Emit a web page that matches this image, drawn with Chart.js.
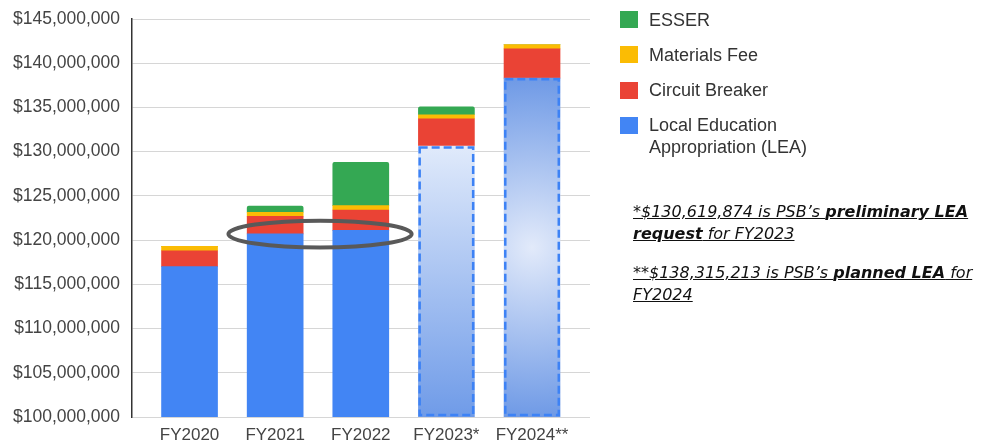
<!DOCTYPE html>
<html lang="en">
<head>
<meta charset="UTF-8">
<title>PSB funding by source, FY2020-FY2024</title>
<script src="https://cdn.jsdelivr.net/npm/chart.js"></script>
<style>
  body { margin: 0; background: #fff; }
  #wrap { position: relative; width: 986px; height: 446px; }
  #legend {
    position: absolute; left: 620px; top: 8.5px;
    font-family: "Liberation Sans", Arial, sans-serif; font-size: 18px; color: #333;
  }
  .item { position: relative; padding-left: 29px; line-height: 22px; margin-bottom: 13.3px; }
  .swatch { position: absolute; left: 0; top: 2.5px; width: 18px; height: 17px; }
  #notes {
    position: absolute; left: 633px; top: 201px;
    font-family: "DejaVu Sans", sans-serif; font-style: italic; font-size: 16px;
    line-height: 22px; color: #111;
  }
  #notes p { margin: 0 0 17px; text-decoration: underline; }
  #notes b { font-weight: 700; }
</style>
</head>
<body>
<div id="wrap">
  <canvas id="chart"></canvas>
  <div id="legend"></div>
  <div id="notes">
    <p>*$130,619,874 is PSB’s <b>preliminary LEA</b><br><b>request</b> for FY2023</p>
    <p>**$138,315,213 is PSB’s <b>planned LEA</b> for<br>FY2024</p>
  </div>
</div>

<script>
// data
const categories = ['FY2020', 'FY2021', 'FY2022', 'FY2023*', 'FY2024**'];
const lea = [117000000, 120700000, 121100000, 130619874, 138315213];
const circuitBreaker = [1800000, 2000000, 2300000, 3100000, 3300000];
const materialsFee = [500000, 450000, 500000, 450000, 500000];
const esser = [0, 700000, 4900000, 900000, 0];
const yTicks = [100000000, 105000000, 110000000, 115000000, 120000000,
                125000000, 130000000, 135000000, 140000000, 145000000];

const seriesNames = ['Local Education\nAppropriation (LEA)', 'Circuit Breaker', 'Materials Fee', 'ESSER'];
const colors = ['#4285f4', '#ea4335', '#fbbc04', '#34a853'];
const projected = [3, 4]; // bars drawn dashed with gradient fill

// ellipse highlighting FY2021/FY2022 LEA, in data units
const ring = { x: 1.524, y: 120680000, rx: 1.07, ry: 1520000 };

function toPoints(arr) {
  return arr.map((v, i) => ({ x: i, y: v }));
}

function leaFill(context) {
  const chart = context.chart;
  const i = context.dataIndex;
  const area = chart.chartArea;
  if (!area || projected.indexOf(i) < 0) return colors[0];
  const ctx = chart.ctx;
  const top = chart.scales.y.getPixelForValue(lea[i]);
  const bottom = area.bottom;
  if (i === 3) {
    const g = ctx.createLinearGradient(0, top, 0, bottom);
    g.addColorStop(0, '#e0eafb');
    g.addColorStop(1, '#6f9be8');
    return g;
  }
  const cx = chart.scales.x.getPixelForValue(i);
  const cy = (top + bottom) / 2;
  const g = ctx.createRadialGradient(cx, cy, 0, cx, cy, (bottom - top) / 2);
  g.addColorStop(0, '#e2eafa');
  g.addColorStop(1, '#6f9ae6');
  return g;
}

// dashed outline for the planned LEA bars
const dashedBars = {
  id: 'dashedBars',
  afterDatasetsDraw(chart) {
    const meta = chart.getDatasetMeta(0);
    const ctx = chart.ctx;
    ctx.save();
    ctx.strokeStyle = '#3d82f5';
    ctx.lineWidth = 2.5;
    ctx.setLineDash([8, 4]);
    projected.forEach(i => {
      const bar = meta.data[i];
      const w = bar.width;
      const bottom = Math.min(bar.base, chart.chartArea.bottom) - 2;
      ctx.strokeRect(bar.x - w / 2 + 1.25, bar.y + 1.25, w - 2.5, bottom - bar.y - 1.25);
    });
    ctx.restore();
  }
};

const ringPlugin = {
  id: 'ring',
  afterDatasetsDraw(chart) {
    const x = chart.scales.x, y = chart.scales.y;
    const cx = x.getPixelForValue(ring.x);
    const cy = y.getPixelForValue(ring.y);
    const rx = x.getPixelForValue(ring.x + ring.rx) - cx;
    const ry = cy - y.getPixelForValue(ring.y + ring.ry);
    const ctx = chart.ctx;
    ctx.save();
    ctx.strokeStyle = '#595959';
    ctx.lineWidth = 4;
    ctx.beginPath();
    ctx.ellipse(cx, cy, rx, ry, 0, 0, Math.PI * 2);
    ctx.stroke();
    ctx.restore();
  }
};

const chart = new Chart(document.getElementById('chart'), {
  type: 'bar',
  data: {
    datasets: [
      { label: seriesNames[0], data: toPoints(lea), backgroundColor: leaFill },
      { label: seriesNames[1], data: toPoints(circuitBreaker), backgroundColor: colors[1] },
      { label: seriesNames[2], data: toPoints(materialsFee), backgroundColor: colors[2] },
      { label: seriesNames[3], data: toPoints(esser), backgroundColor: colors[3], borderRadius: 2 }
    ]
  },
  options: {
    responsive: true,
    maintainAspectRatio: false,
    animation: false,
    barThickness: 56,
    layout: { padding: { left: 0, right: 396, top: 19, bottom: 1 } },
    plugins: { legend: { display: false }, tooltip: { enabled: false } },
    scales: {
      x: {
        type: 'linear',
        stacked: true,
        offset: false,
        min: -0.672,
        max: 4.677,
        grid: { display: false, drawTicks: false },
        border: { display: false },
        afterBuildTicks: s => { s.ticks = categories.map((c, i) => ({ value: i })); },
        afterFit: s => { s.height = 28; },
        ticks: {
          autoSkip: false,
          maxRotation: 0,
          padding: 8,
          color: '#444',
          font: { family: '"Liberation Sans", Arial, sans-serif', size: 17 },
          callback: v => categories[v]
        }
      },
      y: {
        stacked: true,
        min: 100000000,
        max: 145000000,
        afterBuildTicks: s => { s.ticks = yTicks.map(v => ({ value: v })); },
        afterFit: s => { s.width = 132; s.paddingTop = 0; s.paddingBottom = 0; },
        grid: { color: '#d6d6d6', lineWidth: 1, drawTicks: false },
        border: { color: '#333', width: 1.5 },
        ticks: {
          padding: 12,
          color: '#444',
          font: { family: '"Liberation Sans", Arial, sans-serif', size: 17.5 },
          callback: v => '$' + v.toLocaleString('en-US')
        }
      }
    }
  },
  plugins: [dashedBars, ringPlugin]
});

// legend, top to bottom in reverse stacking order
const legend = document.getElementById('legend');
seriesNames.slice().reverse().forEach((name, k) => {
  const item = document.createElement('div');
  item.className = 'item';
  const sw = document.createElement('span');
  sw.className = 'swatch';
  sw.style.background = colors[colors.length - 1 - k];
  item.appendChild(sw);
  name.split('\n').forEach((line, j) => {
    if (j > 0) item.appendChild(document.createElement('br'));
    item.appendChild(document.createTextNode(line));
  });
  legend.appendChild(item);
});
</script>
</body>
</html>
